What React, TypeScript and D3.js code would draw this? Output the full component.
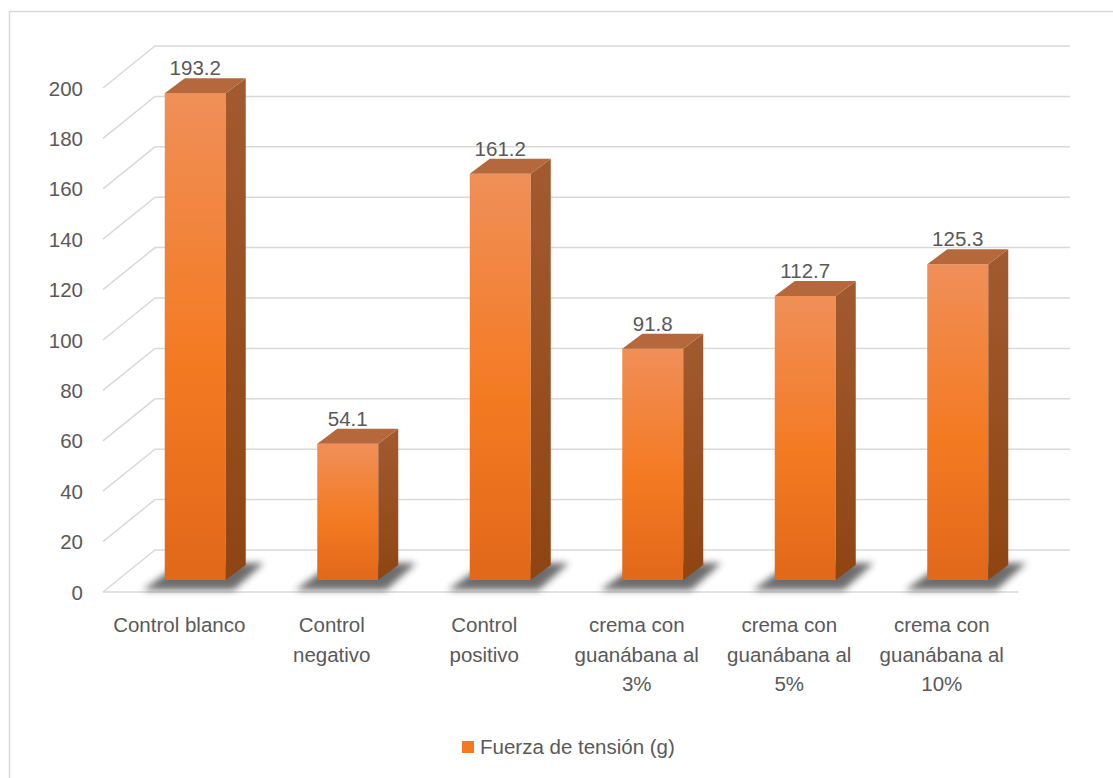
import React from "react";
import * as d3 from "d3";

const categories: string[][] = [
  ["Control blanco"],
  ["Control", "negativo"],
  ["Control", "positivo"],
  ["crema con", "guanábana al", "3%"],
  ["crema con", "guanábana al", "5%"],
  ["crema con", "guanábana al", "10%"],
];
const values: number[] = [193.2, 54.1, 161.2, 91.8, 112.7, 125.3];
const valueLabels: string[] = ["193.2", "54.1", "161.2", "91.8", "112.7", "125.3"];
const yTicks: number[] = [0, 20, 40, 60, 80, 100, 120, 140, 160, 180, 200];
const legendLabel = "Fuerza de tensión (g)";

const W = 1113;
const H = 778;
const FONT = "'Liberation Sans', Arial, sans-serif";
const TEXT = "#595959";
const GRID = "#D9D9D9";

export default function App() {
  const keys = categories.map((c) => c.join(" "));
  const x = d3.scaleBand<string>().domain(keys).range([103, 1018]).paddingInner(0).paddingOuter(0);
  const y = d3.scaleLinear().domain([0, 200]).range([592, 88]);
  const wallDX = 52;
  const wallDY = -42;
  const barW = 61;
  const barOffX = 16;
  const barOffY = -12;
  const bDX = 20;
  const bDY = -15;
  const bw = x.bandwidth();

  return (
    <svg
      width={W}
      height={H}
      style={{ position: "absolute", left: 0, top: 0, background: "#fff" }}
      fontFamily={FONT}
    >
      <defs>
        <linearGradient id="front" x1="0" y1="0" x2="0" y2="1">
          <stop offset="0" stopColor="#F08F58" />
          <stop offset="0.55" stopColor="#F47A22" />
          <stop offset="1" stopColor="#E2681A" />
        </linearGradient>
        <linearGradient id="side" x1="0" y1="0" x2="0" y2="1">
          <stop offset="0" stopColor="#A25A30" />
          <stop offset="1" stopColor="#8F4512" />
        </linearGradient>
        <filter id="blur" x="-50%" y="-50%" width="200%" height="200%">
          <feGaussianBlur stdDeviation="3.5" />
        </filter>
      </defs>
      <rect x={9.5} y={11.5} width={1120} height={800} fill="#fff" stroke="#D9D9D9" strokeWidth={1.5} />

      {/* gridlines: left diagonal + back wall */}
      {yTicks.map((t) => {
        const fy = y(t);
        return (
          <polyline
            key={"g" + t}
            points={`103,${fy} ${103 + wallDX},${fy + wallDY} ${1018 + wallDX},${fy + wallDY}`}
            fill="none"
            stroke={GRID}
            strokeWidth={1.5}
          />
        );
      })}
      {/* floor front edge */}
      <line x1={103} x2={1018} y1={y(0)} y2={y(0)} stroke={GRID} strokeWidth={1.5} />

      {/* tick labels */}
      {yTicks.map((t) => (
        <text key={"t" + t} x={83} y={y(t) + 7.5} textAnchor="end" fontSize={20.5} fill={TEXT}>
          {t}
        </text>
      ))}

      {/* bars */}
      {keys.map((k, i) => {
        const x0 = (x(k) as number) + (bw - barW) / 2 + barOffX;
        const yb = y(0) + barOffY;
        const yt = y(values[i]) + barOffY;
        const x1 = x0 + barW;
        const shadow = `${x0 - 22},${yb + 10} ${x1 + 8},${yb + 10} ${x1 + bDX + 18},${yb + bDY - 2} ${x0 + bDX - 4},${yb + bDY - 2}`;
        return (
          <g key={"b" + i}>
            <polygon points={shadow} fill="#3a3a3a" opacity={0.75} filter="url(#blur)" />
            <rect x={x0} y={yt} width={barW} height={yb - yt} fill="url(#front)" />
            <polygon
              points={`${x1},${yt} ${x1 + bDX},${yt + bDY} ${x1 + bDX},${yb + bDY} ${x1},${yb}`}
              fill="url(#side)"
            />
            <polygon
              points={`${x0},${yt} ${x0 + bDX},${yt + bDY} ${x1 + bDX},${yt + bDY} ${x1},${yt}`}
              fill="#B5683C"
            />
            <text
              x={x0 + barW / 2}
              y={yt + bDY - 3}
              textAnchor="middle"
              fontSize={20.5}
              fill={TEXT}
            >
              {valueLabels[i]}
            </text>
          </g>
        );
      })}

      {/* category labels */}
      {categories.map((lines, i) => (
        <text
          key={"c" + i}
          x={(x(keys[i]) as number) + bw / 2}
          y={632}
          textAnchor="middle"
          fontSize={20.5}
          fill={TEXT}
        >
          {lines.map((l, j) => (
            <tspan key={j} x={(x(keys[i]) as number) + bw / 2} dy={j === 0 ? 0 : 29.5}>
              {l}
            </tspan>
          ))}
        </text>
      ))}

      {/* legend */}
      <rect x={462} y={741} width={12} height={12} fill="#F47A22" />
      <text x={480} y={754} fontSize={20.5} fill={TEXT}>
        {legendLabel}
      </text>
    </svg>
  );
}
